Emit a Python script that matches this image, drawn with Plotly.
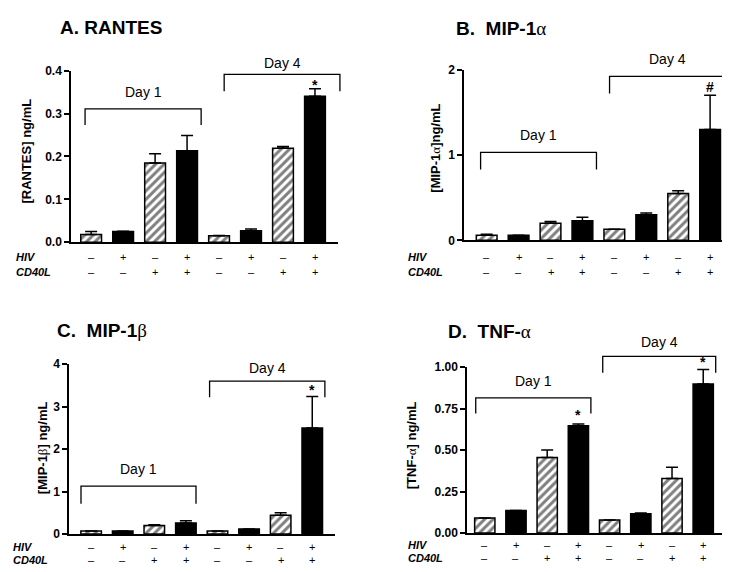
import plotly.graph_objects as go

W, H = 730, 572

# ---------------- data ----------------
hiv_signs = ["–", "+", "–", "+", "–", "+", "–", "+"]
cd40l_signs = ["–", "–", "+", "+", "–", "–", "+", "+"]

rantes_vals = [0.018, 0.025, 0.185, 0.213, 0.015, 0.027, 0.219, 0.340]
rantes_err = [0.007, 0.001, 0.021, 0.036, 0.001, 0.004, 0.004, 0.018]

mip1a_vals = [0.06, 0.06, 0.20, 0.23, 0.13, 0.30, 0.55, 1.30]
mip1a_err = [0.01, 0.0, 0.02, 0.04, 0.0, 0.02, 0.03, 0.40]

mip1b_vals = [0.07, 0.07, 0.20, 0.26, 0.07, 0.12, 0.44, 2.50]
mip1b_err = [0.0, 0.0, 0.02, 0.05, 0.0, 0.0, 0.06, 0.74]

tnfa_vals = [0.090, 0.135, 0.456, 0.646, 0.079, 0.116, 0.328, 0.898]
tnfa_err = [0.0, 0.0, 0.044, 0.012, 0.0, 0.004, 0.069, 0.088]

FONT = "Liberation Sans, Arial, Helvetica, sans-serif"
ALPHA = '<span style="font-family:Liberation Serif, serif;font-weight:normal">α</span>'
BETA = '<span style="font-family:Liberation Serif, serif;font-weight:normal">β</span>'


def px(x):
    return x / W


def py(y):
    return 1 - y / H


panels = [
    dict(title="A. RANTES", ytitle="[RANTES] ng/mL", vals=rantes_vals, err=rantes_err,
         yr=[0, 0.4], dtick=0.1, fmt=".1f",
         xpix=(63, 330), ypix=(233, 57), xr=[-0.63, 7.72],
         title_xy=(50, 13), ytitle_xy=(19, 140), rows_y=(248, 263), rowlab_x=6,
         br1=(-0.19, 3.44, 0.311, 0.273, 0.350), br4=(4.16, 7.78, 0.391, 0.352, 0.418),
         stars={7: ("*", 0.366)}),
    dict(title="B.  MIP-1" + ALPHA, ytitle="[MIP-1" + ALPHA + "]ng/mL", vals=mip1a_vals, err=mip1a_err,
         yr=[0, 2], dtick=1, fmt="d",
         xpix=(456, 727), ypix=(231, 56), xr=[-0.71, 7.78],
         title_xy=(446, 14), ytitle_xy=(428, 137), rows_y=(248, 263), rowlab_x=398,
         br1=(-0.19, 3.44, 1.03, 0.83, 1.24), br4=(3.85, 7.5, 1.92, 1.72, 2.13),
         stars={7: ("#", 1.80)}),
    dict(title="C.  MIP-1" + BETA, ytitle="[MIP-1" + BETA + "] ng/mL", vals=mip1b_vals, err=mip1b_err,
         yr=[0, 4], dtick=1, fmt="d",
         xpix=(61, 327), ypix=(532, 358), xr=[-0.70, 7.72],
         title_xy=(47, 323), ytitle_xy=(34, 444), rows_y=(545, 559), rowlab_x=3,
         br1=(-0.32, 3.32, 1.13, 0.71, 1.52), br4=(3.75, 7.4, 3.60, 3.22, 3.92),
         stars={7: ("*", 3.40)}),
    dict(title="D.  TNF-" + ALPHA, ytitle="[TNF-" + ALPHA + "] ng/mL", vals=tnfa_vals, err=tnfa_err,
         yr=[0, 1.0], dtick=0.25, fmt=".2f",
         xpix=(459, 718), ypix=(531, 361), xr=[-0.57, 7.73],
         title_xy=(438, 324), ytitle_xy=(403, 441), rows_y=(543, 557), rowlab_x=398,
         br1=(-0.29, 3.4, 0.815, 0.72, 0.917), br4=(3.78, 7.4, 1.065, 0.967, 1.153),
         stars={3: ("*", 0.712), 7: ("*", 1.030)}),
]

fig = go.Figure()
annotations = []
shapes = []

for k, p in enumerate(panels):
    n = "" if k == 0 else str(k + 1)
    xa, ya = "x" + n, "y" + n
    xs = list(range(len(p["vals"])))
    hatched_idx = [i for i in xs if i % 2 == 0]
    solid_idx = [i for i in xs if i % 2 == 1]

    x0, x1 = p["xpix"]
    yb, yt = p["ypix"]
    xd = [px(x0), px(x1)]
    yd = [py(yb), py(yt)]

    # data -> paper converters (for marks drawn outside the axis ranges)
    def dx(v, xd=xd, xr=p["xr"]):
        return xd[0] + (v - xr[0]) / (xr[1] - xr[0]) * (xd[1] - xd[0])

    def dy(v, yd=yd, yr=p["yr"]):
        return yd[0] + (v - yr[0]) / (yr[1] - yr[0]) * (yd[1] - yd[0])

    err_style = dict(type="data", symmetric=False, color="black", thickness=1.5, width=6)

    fig.add_trace(go.Bar(
        x=[xs[i] for i in hatched_idx], y=[p["vals"][i] for i in hatched_idx],
        error_y=dict(array=[p["err"][i] for i in hatched_idx],
                     arrayminus=[0] * len(hatched_idx), **err_style),
        width=0.65, xaxis=xa, yaxis=ya, showlegend=False,
        marker=dict(color="white", line=dict(color="black", width=1.5),
                    pattern=dict(shape="/", fgcolor="black", bgcolor="white",
                                 size=6, solidity=0.5, fillmode="overlay")),
    ))
    fig.add_trace(go.Bar(
        x=[xs[i] for i in solid_idx], y=[p["vals"][i] for i in solid_idx],
        error_y=dict(array=[p["err"][i] for i in solid_idx],
                     arrayminus=[0] * len(solid_idx), **err_style),
        width=0.65, xaxis=xa, yaxis=ya, showlegend=False,
        marker=dict(color="black", line=dict(color="black", width=1.5)),
    ))

    fig.update_layout(**{
        ("xaxis" + n): dict(domain=xd, range=p["xr"], anchor=ya,
                            showline=True, linecolor="black", linewidth=1.5,
                            showticklabels=False, ticks="", showgrid=False, zeroline=False,
                            fixedrange=True),
        ("yaxis" + n): dict(domain=yd, range=p["yr"], anchor=xa,
                            showline=True, linecolor="black", linewidth=1.5,
                            ticks="outside", ticklen=5, tickwidth=1.5, tickcolor="black",
                            dtick=p["dtick"], tick0=0, tickformat=p["fmt"],
                            tickfont=dict(family=FONT, size=12, color="black", weight="bold"),
                            showgrid=False, zeroline=False, fixedrange=True),
    })

    # panel title
    tx, ty = p["title_xy"]
    annotations.append(dict(text="<b>" + p["title"] + "</b>", xref="paper", yref="paper",
                            x=px(tx), y=py(ty), xanchor="left", yanchor="middle",
                            showarrow=False, font=dict(family=FONT, size=19, color="black")))
    # y axis title
    yx, yy = p["ytitle_xy"]
    annotations.append(dict(text="<b>" + p["ytitle"] + "</b>", xref="paper", yref="paper",
                            x=px(yx), y=py(yy), xanchor="center", yanchor="middle", textangle=-90,
                            showarrow=False, font=dict(family=FONT, size=13, color="black")))
    # condition rows
    r1, r2 = p["rows_y"]
    for lab, ry in (("HIV", r1), ("CD40L", r2)):
        annotations.append(dict(text="<b><i>" + lab + "</i></b>", xref="paper", yref="paper",
                                x=px(p["rowlab_x"]), y=py(ry), xanchor="left", yanchor="middle",
                                showarrow=False, font=dict(family=FONT, size=11, color="black")))
    for i in xs:
        for sgn, ry in ((hiv_signs[i], r1), (cd40l_signs[i], r2)):
            annotations.append(dict(text=sgn, xref="paper", yref="paper", x=dx(i), y=py(ry),
                                    xanchor="center", yanchor="middle", showarrow=False,
                                    font=dict(family=FONT, size=11, color="black")))
    # brackets
    for br, lab in ((p["br1"], "Day 1"), (p["br4"], "Day 4")):
        bx0, bx1, btop, bbot, ly = br
        shapes.append(dict(type="path", xref="paper", yref="paper",
                           path=(f"M {dx(bx0)},{dy(bbot)} L {dx(bx0)},{dy(btop)} "
                                 f"L {dx(bx1)},{dy(btop)} L {dx(bx1)},{dy(bbot)}"),
                           line=dict(color="black", width=1.3)))
        annotations.append(dict(text=lab, xref="paper", yref="paper", x=dx((bx0 + bx1) / 2), y=dy(ly),
                                xanchor="center", yanchor="middle", showarrow=False,
                                font=dict(family=FONT, size=14, color="black")))
    for i, (sym, sy) in p["stars"].items():
        annotations.append(dict(text="<b>" + sym + "</b>", xref="paper", yref="paper", x=dx(i), y=dy(sy),
                                xanchor="center", yanchor="middle", showarrow=False,
                                font=dict(family=FONT, size=14, color="black")))

fig.update_layout(width=W, height=H, margin=dict(l=0, r=0, t=0, b=0),
                  paper_bgcolor="white", plot_bgcolor="white",
                  annotations=annotations, shapes=shapes, bargap=0.3)
fig.write_html("out.html")
